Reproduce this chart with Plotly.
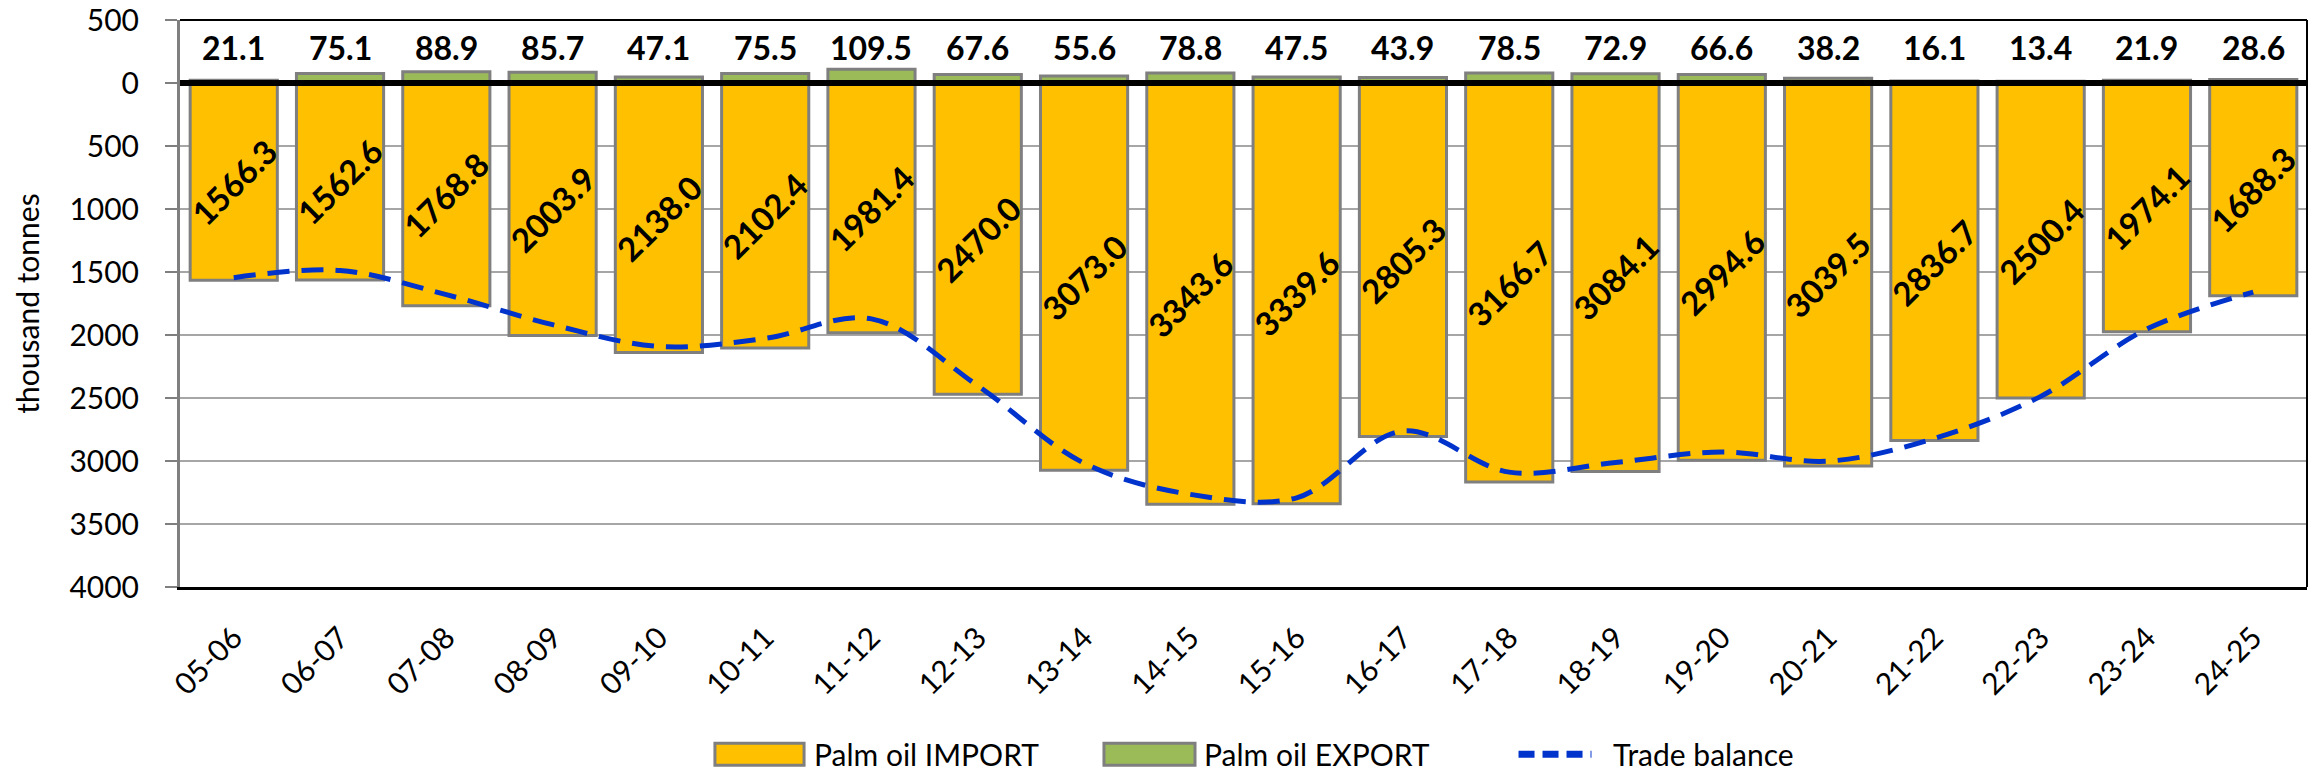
import plotly.graph_objects as go

# Marketing years
years = ["05-06", "06-07", "07-08", "08-09", "09-10", "10-11", "11-12", "12-13", "13-14", "14-15",
         "15-16", "16-17", "17-18", "18-19", "19-20", "20-21", "21-22", "22-23", "23-24", "24-25"]

# Palm oil trade, thousand tonnes
palm_import = [1566.3, 1562.6, 1768.8, 2003.9, 2138.0, 2102.4, 1981.4, 2470.0, 3073.0, 3343.6,
               3339.6, 2805.3, 3166.7, 3084.1, 2994.6, 3039.5, 2836.7, 2500.4, 1974.1, 1688.3]
palm_export = [21.1, 75.1, 88.9, 85.7, 47.1, 75.5, 109.5, 67.6, 55.6, 78.8,
               47.5, 43.9, 78.5, 72.9, 66.6, 38.2, 16.1, 13.4, 21.9, 28.6]

# Axis ticks (imports are drawn below zero, labelled by magnitude)
tick_values = [500, 0, -500, -1000, -1500, -2000, -2500, -3000, -3500, -4000]
tick_labels = ["500", "0", "500", "1000", "1500", "2000", "2500", "3000", "3500", "4000"]

trade_balance = [round(e - i, 1) for e, i in zip(palm_export, palm_import)]

FONT = "Lato"
YELLOW = "#FFC000"
GREEN = "#9BBB59"
BLUE = "#0033CC"
OUTLINE = "#7F7F7F"

fig = go.Figure()

fig.add_trace(go.Bar(
    x=years, y=[-v for v in palm_import], name="Palm oil IMPORT",
    marker=dict(color=YELLOW, line=dict(color=OUTLINE, width=3)),
    showlegend=False,
))
fig.add_trace(go.Bar(
    x=years, y=palm_export, name="Palm oil EXPORT",
    marker=dict(color=GREEN, line=dict(color=OUTLINE, width=3)),
    showlegend=False,
))
fig.add_trace(go.Scatter(
    x=years, y=trade_balance, name="Trade balance", mode="lines",
    line=dict(color=BLUE, width=5, dash="22px,12px", shape="spline", smoothing=1.0),
    showlegend=False,
))

annotations = []
# Import values, rotated, centred inside each bar
for yr, v in zip(years, palm_import):
    annotations.append(dict(
        x=yr, y=-v / 2, xref="x", yref="y", text=f"{v:.1f}", showarrow=False,
        textangle=-45, font=dict(family=FONT, size=33, color="black", weight="bold"),
        xanchor="center", yanchor="middle",
    ))
# Export values in a row along the top
for yr, v in zip(years, palm_export):
    annotations.append(dict(
        x=yr, y=280, xref="x", yref="y", text=f"{v:.1f}", showarrow=False,
        font=dict(family=FONT, size=32, color="black", weight="bold"),
        xanchor="center", yanchor="middle",
    ))

# Custom legend below the chart
legend_y = -0.295
half_h = 0.0194
legend_items = [
    ("bar", YELLOW, 0.2515, 0.2934, 0.2976, "Palm oil IMPORT"),
    ("bar", GREEN, 0.4344, 0.4772, 0.4810, "Palm oil EXPORT"),
    ("line", BLUE, 0.6253, 0.6676, 0.6733, "Trade balance"),
]
shapes = []
for kind, color, x0, x1, xt, label in legend_items:
    if kind == "bar":
        shapes.append(dict(type="rect", xref="paper", yref="paper", x0=x0, x1=x1,
                           y0=legend_y - half_h, y1=legend_y + half_h,
                           fillcolor=color, line=dict(color=OUTLINE, width=3)))
    else:
        shapes.append(dict(type="line", xref="paper", yref="paper", x0=x0 + 0.004, x1=x1 - 0.004,
                           y0=legend_y, y1=legend_y, line=dict(color=color, width=7, dash="16px,8px")))
    annotations.append(dict(x=xt, y=legend_y, xref="paper", yref="paper", text=label,
                            showarrow=False, xanchor="left", yanchor="middle", borderpad=0,
                            font=dict(family=FONT, size=30, color="black")))

# Thick zero line above the bars, plus top/right frame
shapes.append(dict(type="line", xref="paper", yref="y", x0=0, x1=1, y0=0, y1=0,
                   line=dict(color="black", width=6), layer="above"))
shapes.append(dict(type="line", xref="paper", yref="paper", x0=0, x1=1, y0=1, y1=1,
                   line=dict(color="black", width=2), layer="above"))
shapes.append(dict(type="line", xref="paper", yref="paper", x0=1, x1=1, y0=0, y1=1,
                   line=dict(color="black", width=2), layer="above"))

fig.update_layout(
    width=2315, height=774,
    margin=dict(l=180, r=8, t=20, b=187),
    paper_bgcolor="white", plot_bgcolor="white",
    barmode="relative", bargap=0.18,
    font=dict(family=FONT, color="black"),
    annotations=annotations, shapes=shapes,
    showlegend=False,
)
fig.update_xaxes(
    type="category", tickangle=-45, tickfont=dict(family=FONT, size=30, color="black"),
    showline=True, linecolor="black", linewidth=3, ticks="", showgrid=False,
    ticklabelposition="outside", ticklabelstandoff=18, automargin=False,
)
fig.update_yaxes(
    range=[-4000, 500], tickvals=tick_values, ticktext=tick_labels,
    tickfont=dict(family=FONT, size=30, color="black"),
    showline=True, linecolor=OUTLINE, linewidth=3,
    ticks="outside", ticklen=12, tickcolor=OUTLINE, tickwidth=2,
    showgrid=True, gridcolor="#A6A6A6", gridwidth=2, zeroline=False,
    ticklabelposition="outside", ticklabelstandoff=20,
    automargin=False,
    title=dict(text="thousand tonnes", font=dict(family=FONT, size=30, color="black"), standoff=21),
)

fig.write_html("out.html")
